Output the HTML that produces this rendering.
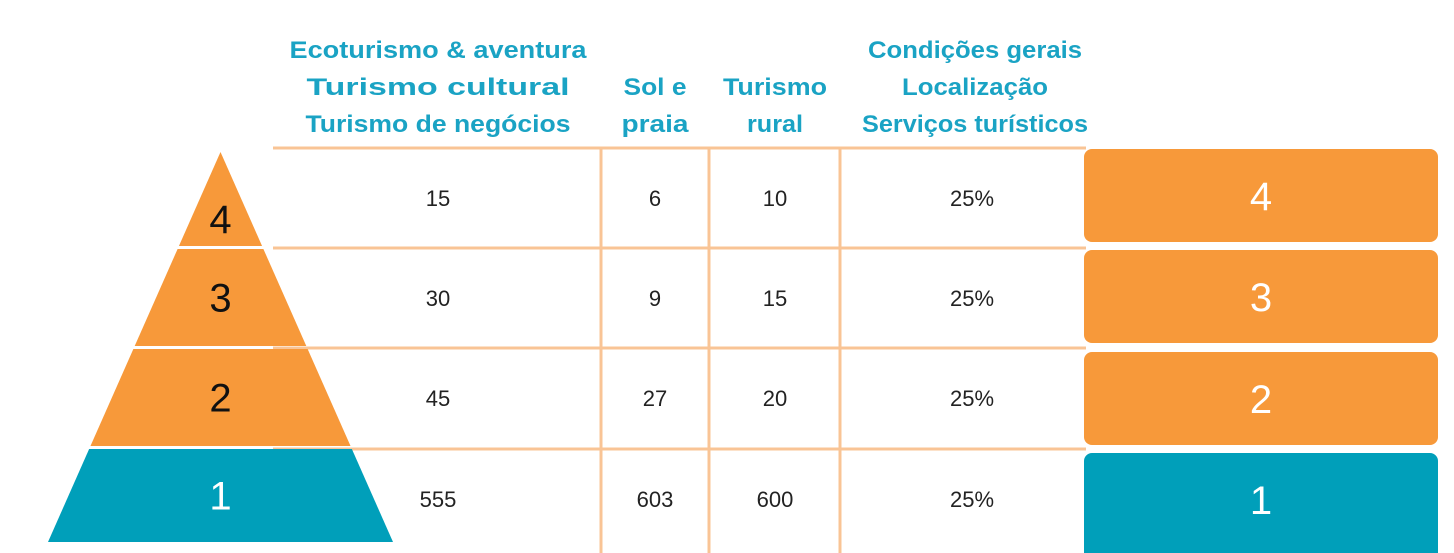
<!DOCTYPE html>
<html><head><meta charset="utf-8"><style>
html,body{margin:0;padding:0;background:#fff;width:1454px;height:553px;overflow:hidden}
svg{display:block}
</style></head><body>
<svg id="chart" width="1454" height="553" viewBox="0 0 1454 553" xmlns="http://www.w3.org/2000/svg" font-family="'Liberation Sans', sans-serif">
<g id="headers" fill="#1aa3c4" font-weight="bold" font-size="24" text-anchor="middle"></g>
<g id="grid" stroke="#f9c495" stroke-width="3"></g>
<g id="pyr"></g>
<g id="cells" font-size="22" fill="#222" text-anchor="middle"></g>
<g id="boxes"></g>
</svg>
<script>
const levels = ["4","3","2","1"];
const ecoValues = ["15","30","45","555"];
const solValues = ["6","9","27","603"];
const ruralValues = ["10","15","20","600"];
const condValues = ["25%","25%","25%","25%"];
const headerLines = [
  [["Ecoturismo & aventura",297],["Turismo cultural",263],["Turismo de negócios",265]],
  [["Sol e",63],["praia",67]],
  [["Turismo",104],["rural",56]],
  [["Condições gerais",214],["Localização",146],["Serviços turísticos",226]]
];
const NS="http://www.w3.org/2000/svg";
function mk(tag,attrs,parent){const e=document.createElementNS(NS,tag);for(const k in attrs)e.setAttribute(k,attrs[k]);parent.appendChild(e);return e;}
const colX=[438,655,775,975];
const rowTop=[148,248,348,449], rowH=100;
const rowY=i=>rowTop[i]+rowH/2;
// headers
const hg=document.getElementById('headers');
headerLines.forEach((lines,c)=>{
  const off=3-lines.length;
  lines.forEach((l,j)=>{
    const t=mk('text',{x:colX[c],y:[58,95,132][j+off],textLength:l[1],lengthAdjust:'spacingAndGlyphs'},hg);
    
    
    t.textContent=l[0];
  });
});
// grid
const gg=document.getElementById('grid');
rowTop.forEach(y=>{const l=mk('line',{x1:273,y1:y,x2:1086,y2:y},gg);
  
  });
[601,709,840].forEach(x=>{const l=mk('line',{x1:x,y1:148,x2:x,y2:553},gg);
  
  });
// pyramid
const pg=document.getElementById('pyr');
const apexX=220.5, apexY=152, slope=172.5/390;
const bands=[[152,246],[249,346],[349,446],[449,542]];
levels.forEach((lv,i)=>{
  const [t,b]=bands[i];
  const ht=(t-apexY)*slope, hb=(b-apexY)*slope;
  const col=lv==="1"?"#009fba":"#f7993a";
  const p=mk('polygon',{points:`${apexX-ht},${t} ${apexX+ht},${t} ${apexX+hb},${b} ${apexX-hb},${b}`,fill:col},pg);
  
  
  const tx=mk('text',{x:apexX,y:(i===0?233:(t+b)/2+14),'font-size':40,'text-anchor':'middle',fill:lv==="1"?"#fff":"#111"},pg);
  
  
  tx.textContent=lv;
});
// values
const cg=document.getElementById('cells');
[ecoValues,solValues,ruralValues,condValues].forEach((arr,c)=>{
  arr.forEach((v,i)=>{
    const t=mk('text',{x:colX[c]+(c===3?-3:0),y:rowY(i)+8},cg);
    
    
    t.textContent=v;
  });
});
// boxes
const bg=document.getElementById('boxes');
const boxTop=[149,250,352,453];
levels.forEach((lv,i)=>{
  const r=mk('rect',{x:1084,y:boxTop[i],width:354,height:lv==="1"?110:93,rx:8,fill:lv==="1"?"#009fba":"#f7993a"},bg);
  
  
  const t=mk('text',{x:1261,y:boxTop[i]+61,'font-size':40,'text-anchor':'middle',fill:'#fff'},bg);
  
  
  t.textContent=lv;
});
</script>
</body></html>
